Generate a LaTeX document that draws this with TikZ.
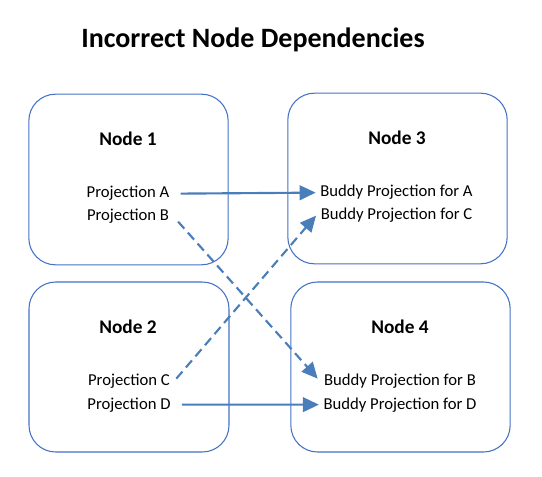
\documentclass[tikz,border=0pt]{standalone}
\usepackage{fontspec}
\setmainfont{Carlito}
\usepackage{tikz}
\usetikzlibrary{arrows.meta}
\definecolor{boxblue}{RGB}{68,114,196}
\definecolor{arwblue}{RGB}{74,126,187}
\newcommand{\deparw}{-{Triangle[length=12pt,width=11pt]}}
\newcommand{\hdfont}{\bfseries\fontsize{14.5}{17}\selectfont}
\newcommand{\txtfont}{\fontsize{12.5}{15}\selectfont}

\begin{document}
\begin{tikzpicture}[x=.75pt,y=-.75pt,
  nodebox/.style={draw=boxblue,line width=.8pt,rounded corners=20pt,inner sep=0pt},
  lbl/.style={anchor=base,font=\txtfont}]
\useasboundingbox (0,0) rectangle (542,477);
\node[anchor=base,font=\bfseries\fontsize{21}{25}\selectfont] (title) at (253,48) {Incorrect Node Dependencies};
%node boxes
\node[nodebox,minimum width=149.5pt,minimum height=128pt] (box1) at (128.5,179.5) {};
\node[nodebox,minimum width=164.5pt,minimum height=128pt] (box3) at (397.5,178.5) {};
\node[nodebox,minimum width=150pt,minimum height=127.5pt] (box2) at (129,367) {};
\node[nodebox,minimum width=164.5pt,minimum height=127.5pt] (box4) at (400.5,367) {};
%headings
\node[anchor=base,font=\hdfont] (head1) at (128,146) {Node 1};
\node[anchor=base,font=\hdfont] (head3) at (397,145) {Node 3};
\node[anchor=base,font=\hdfont] (head2) at (128,333) {Node 2};
\node[anchor=base,font=\hdfont] (head4) at (400,333) {Node 4};
%projections
\node[lbl] (pa) at (128,198) {Projection A};
\node[lbl] (pb) at (128,221) {Projection B};
\node[lbl] (pc) at (129,385) {Projection C};
\node[lbl] (pd) at (129,409) {Projection D};
\node[lbl] (ba) at (396.5,197) {Buddy Projection for A};
\node[lbl] (bc) at (396.5,220) {Buddy Projection for C};
\node[lbl] (bb) at (400,385) {Buddy Projection for B};
\node[lbl] (bd) at (400,409) {Buddy Projection for D};
%dependencies
\draw[arwblue,line width=1.6pt,shorten <=5pt,\deparw] (pa.east) -- (ba.west);
\draw[arwblue,line width=1.6pt,shorten <=5pt,\deparw] (pd.east) -- (bd.west);
\draw[arwblue,line width=1.6pt,dash pattern=on 7pt off 4pt,shorten <=5pt,shorten >=2pt,\deparw] (pb.east) -- (bb.west);
\draw[arwblue,line width=1.6pt,dash pattern=on 7pt off 4pt,shorten <=2pt,\deparw] (pc.east) -- (bc.west);
\end{tikzpicture}
\end{document}
